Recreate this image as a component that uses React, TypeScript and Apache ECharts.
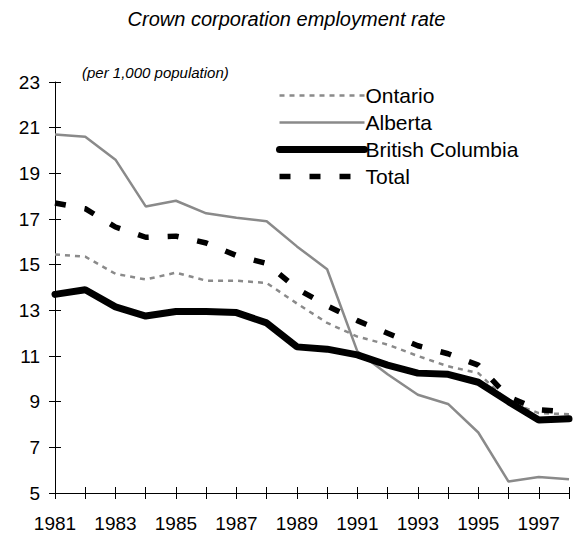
import React, { useEffect, useRef } from "react";
import * as echarts from "echarts";

const years = ["1981","1982","1983","1984","1985","1986","1987","1988","1989","1990","1991","1992","1993","1994","1995","1996","1997","1998"];
const ontario = [15.45, 15.35, 14.6, 14.35, 14.65, 14.3, 14.3, 14.2, 13.3, 12.45, 11.85, 11.5, 11.0, 10.55, 10.25, 9.0, 8.5, 8.45];
const alberta = [20.7, 20.6, 19.6, 17.55, 17.8, 17.25, 17.05, 16.9, 15.8, 14.8, 11.2, 10.2, 9.3, 8.9, 7.65, 5.5, 5.7, 5.6];
const bc = [13.7, 13.9, 13.15, 12.75, 12.95, 12.95, 12.9, 12.45, 11.4, 11.3, 11.05, 10.6, 10.25, 10.2, 9.85, 9.0, 8.2, 8.25];
const total = [17.7, 17.45, 16.65, 16.2, 16.25, 15.95, 15.4, 15.05, 13.95, 13.2, 12.55, 12.0, 11.45, 11.1, 10.6, 9.2, 8.65, 8.55];

const FONT = "Liberation Sans";
const GRAY = "#8a8a8a";

const ontarioStyle = { color: GRAY, width: 2.5, type: [5, 5] };
const albertaStyle = { color: GRAY, width: 2.5, type: "solid" };
const bcStyle = { color: "#000", width: 7, type: "solid", cap: "round" };
const totalStyle = { color: "#000", width: 5.5, type: [11, 19] };

export default function App() {
  const ref = useRef<HTMLDivElement>(null);
  useEffect(() => {
    if (!ref.current) return;
    const chart = echarts.init(ref.current, null, { renderer: "svg" });
    chart.setOption({
      animation: false,
      backgroundColor: "#ffffff",
      textStyle: { fontFamily: FONT },
      title: [
        {
          text: "Crown corporation employment rate",
          left: "center",
          top: 4,
          textStyle: { fontFamily: FONT, fontStyle: "italic", fontWeight: "normal", fontSize: 20, color: "#000" },
        },
        {
          text: "(per 1,000 population)",
          left: 77,
          top: 60,
          textStyle: { fontFamily: FONT, fontStyle: "italic", fontWeight: "normal", fontSize: 15, color: "#000" },
        },
      ],
      legend: {
        orient: "vertical",
        left: 276,
        top: 85,
        padding: 0,
        itemWidth: 85,
        itemHeight: 14,
        itemGap: 6,
        itemStyle: { opacity: 0 },
        textStyle: { fontFamily: FONT, fontSize: 21, color: "#000", padding: [0, 0, 0, -4] },
        data: [
          { name: "Ontario", lineStyle: ontarioStyle },
          { name: "Alberta", lineStyle: albertaStyle },
          { name: "British Columbia", lineStyle: bcStyle },
          { name: "Total", lineStyle: totalStyle },
        ],
      },
      grid: { left: 55, right: 4, top: 82, bottom: 45, containLabel: false },
      xAxis: [
        {
          type: "category",
          data: years,
          boundaryGap: false,
          position: "bottom",
          axisLine: { lineStyle: { color: "#000", width: 1 } },
          axisTick: { show: false },
          axisLabel: { interval: 1, fontSize: 19, color: "#000", margin: 21, fontFamily: FONT },
          splitLine: { show: false },
        },
        {
          type: "category",
          data: years,
          boundaryGap: false,
          position: "bottom",
          offset: -6,
          axisLine: { show: false },
          axisTick: { show: true, length: 12, interval: 0, lineStyle: { color: "#000" } },
          axisLabel: { show: false },
          splitLine: { show: false },
        },
      ],
      yAxis: [
        {
          type: "value",
          min: 5,
          max: 23,
          interval: 2,
          position: "left",
          axisLine: { show: true, lineStyle: { color: "#000", width: 1 } },
          axisTick: { show: false },
          axisLabel: { fontSize: 19, color: "#000", margin: 15, fontFamily: FONT },
          splitLine: { show: false },
        },
        {
          type: "value",
          min: 5,
          max: 23,
          interval: 2,
          position: "left",
          offset: -6,
          axisLine: { show: false },
          axisTick: { show: true, length: 12, lineStyle: { color: "#000" } },
          axisLabel: { show: false },
          splitLine: { show: false },
        },
      ],
      series: [
        { name: "Ontario", type: "line", data: ontario, symbol: "none", z: 2, color: GRAY, lineStyle: ontarioStyle },
        { name: "Alberta", type: "line", data: alberta, symbol: "none", z: 2, color: GRAY, lineStyle: albertaStyle },
        { name: "British Columbia", type: "line", data: bc, symbol: "none", z: 3, color: "#000", lineStyle: bcStyle },
        { name: "Total", type: "line", data: total, symbol: "none", z: 4, color: "#000", lineStyle: totalStyle },
      ],
    });
    return () => chart.dispose();
  }, []);
  return <div ref={ref} style={{ width: 573, height: 538, position: "absolute", left: 0, top: 0 }} />;
}
